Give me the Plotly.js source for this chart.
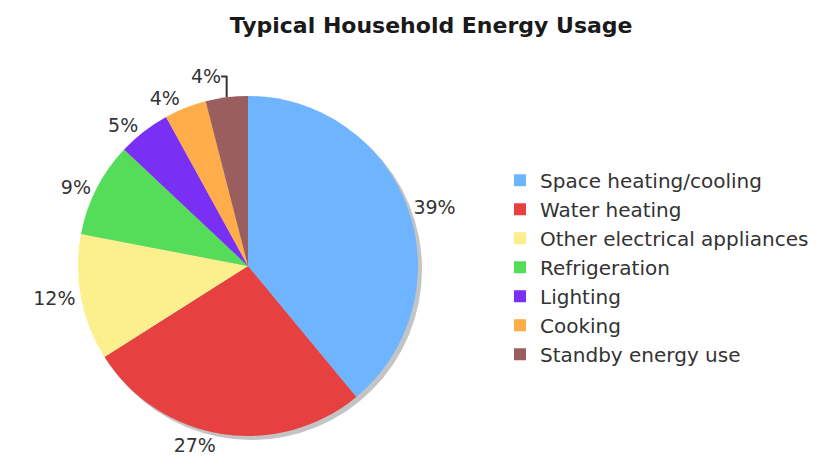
<!DOCTYPE html>
<html>
<head>
<meta charset="utf-8">
<script src="https://cdn.plot.ly/plotly-3.0.1.min.js"></script>
<style>html,body{margin:0;padding:0;background:#fff;}#chart{width:834px;height:465px;}</style>
</head>
<body>
<div id="chart"></div>
<script>
var categories = ["Space heating/cooling", "Water heating", "Other electrical appliances", "Refrigeration", "Lighting", "Cooking", "Standby energy use"];
var shares = [39, 27, 12, 9, 5, 4, 4];
var sliceColors = ["#6fb4ff", "#e64040", "#fbef8e", "#55dd5a", "#7a2ff5", "#ffad4a", "#9b5e5e"];

var FONT = "DejaVu Sans, Verdana, sans-serif";

var data = [{
  type: "pie",
  labels: categories,
  values: shares,
  sort: false,
  direction: "clockwise",
  rotation: 0,
  marker: {colors: sliceColors, line: {width: 0}},
  textinfo: "percent",
  texttemplate: "%{percent:.0%}",
  textposition: "outside",
  outsidetextfont: {family: FONT, size: 19, color: "#333"},
  hoverinfo: "label+percent",
  domain: {x: [0.0721, 0.495], y: [0.0585, 0.888]}
}];

var layout = {
  width: 834, height: 465,
  margin: {l: 20, r: 10, t: 50, b: 5},
  paper_bgcolor: "#fff",
  title: {text: "<b>Typical Household Energy Usage</b>", x: 0.517, xanchor: "center", y: 0.946, yanchor: "middle",
    font: {family: FONT, size: 22, color: "#1a1a1a"}},
  showlegend: true,
  legend: {x: 0.597, y: 0.47, yanchor: "middle", xanchor: "left",
    font: {family: FONT, size: 20, color: "#333"}, traceorder: "normal"},
  shapes: [{
    type: "circle", layer: "below",
    xref: "paper", yref: "paper", xsizemode: "pixel", ysizemode: "pixel",
    xanchor: 0.2836, yanchor: 0.4732,
    x0: -167, x1: 174, y0: -174, y1: 167,
    fillcolor: "#c4c4c4", line: {width: 0}
  }]
};

Plotly.newPlot("chart", data, layout, {displayModeBar: false, staticPlot: true});
</script>
</body>
</html>
